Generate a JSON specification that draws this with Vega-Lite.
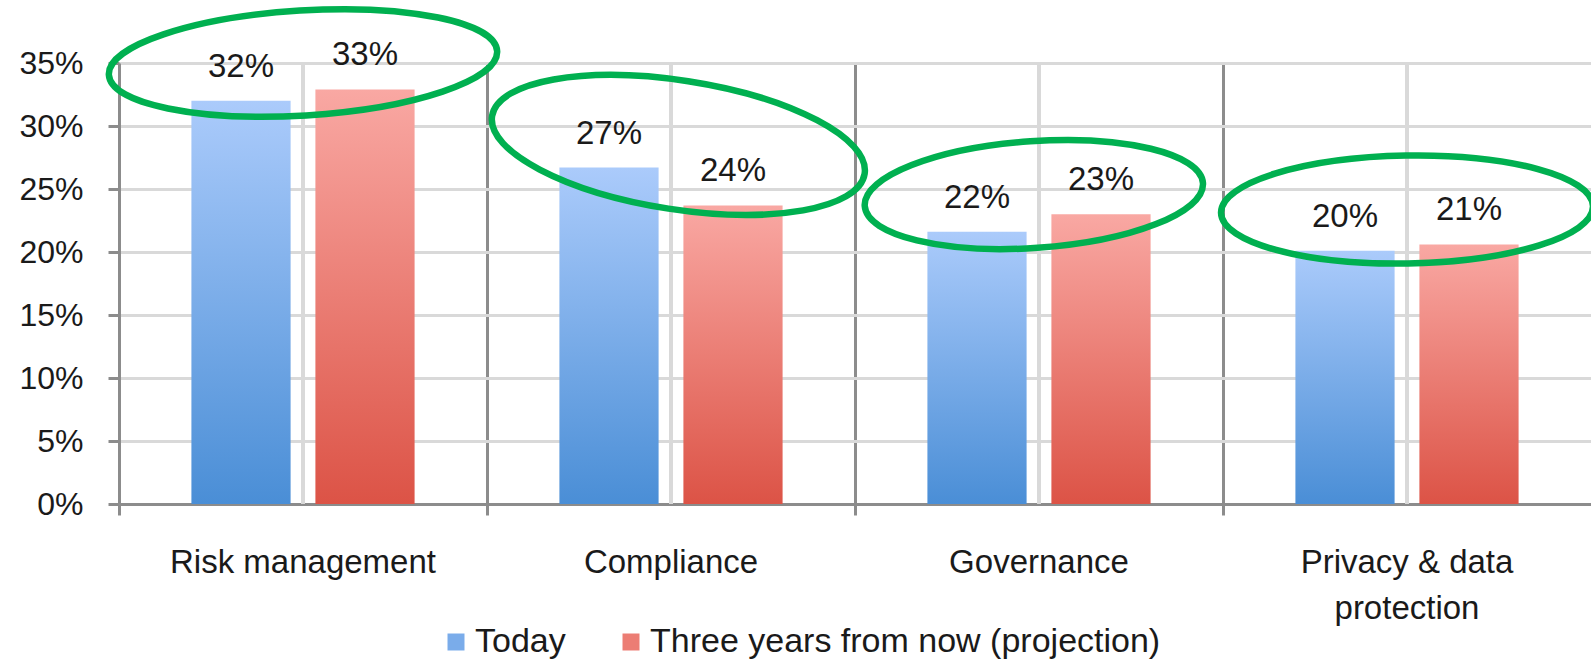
{
  "$schema": "https://vega.github.io/schema/vega-lite/v6.json",
  "width": 1472,
  "height": 441,
  "autosize": "none",
  "padding": {"left": 119, "top": 63, "right": 0, "bottom": 159},
  "background": "white",
  "config": {"view": {"stroke": null}, "font": "Liberation Sans"},
  "datasets": {
    "survey": [
      {"category": "Risk management", "series": "Today", "share": 0.32},
      {"category": "Risk management", "series": "Three years from now (projection)", "share": 0.329},
      {"category": "Compliance", "series": "Today", "share": 0.267},
      {"category": "Compliance", "series": "Three years from now (projection)", "share": 0.237},
      {"category": "Governance", "series": "Today", "share": 0.216},
      {"category": "Governance", "series": "Three years from now (projection)", "share": 0.23},
      {"category": "Privacy & data protection", "series": "Today", "share": 0.201},
      {"category": "Privacy & data protection", "series": "Three years from now (projection)", "share": 0.206}
    ],
    "ellipses": [
      {"category": "Risk management", "center": 0.35},
      {"category": "Compliance", "center": 0.285},
      {"category": "Governance", "center": 0.2456},
      {"category": "Privacy & data protection", "center": 0.2337}
    ]
  },
  "data": {"name": "survey"},
  "layer": [
    {
      "mark": {"type": "rule", "color": "#d9d9d9", "strokeWidth": 4},
      "encoding": {
        "x": {
          "field": "category", "type": "nominal", "sort": null,
          "scale": {"domain": ["Risk management", "Compliance", "Governance", "Privacy & data protection"], "paddingInner": 0, "paddingOuter": 0},
          "axis": {
            "title": null, "labelAngle": 0, "bandPosition": 0,
            "domainColor": "#8c8c8c", "domainWidth": 3,
            "tickColor": "#8c8c8c", "tickWidth": 3, "tickSize": 11,
            "grid": true, "gridColor": "#8c8c8c", "gridWidth": 3,
            "labelFontSize": 33, "labelColor": "#1a1a1a", "labelPadding": 31, "labelLineHeight": 46,
            "labelOverlap": false, "labelFlush": false, "labelLimit": 0,
            "labelExpr": "datum.value == 'Privacy & data protection' ? ['Privacy & data', 'protection'] : datum.label"
          }
        }
      }
    },
    {
      "mark": {"type": "square", "size": 0, "opacity": 1},
      "encoding": {
        "x": {"field": "category", "type": "nominal", "sort": null},
        "y": {"field": "share", "type": "quantitative"},
        "color": {
          "field": "series", "type": "nominal", "sort": ["Today", "Three years from now (projection)"],
          "scale": {
            "domain": ["Today", "Three years from now (projection)"],
            "range": ["#7aacea", "#ec7d74"]
          },
          "legend": {
            "orient": "none", "legendX": 320, "legendY": 562, "direction": "horizontal",
            "title": null, "labelFontSize": 34, "labelColor": "#1a1a1a",
            "symbolType": "square", "symbolSize": 289, "symbolStrokeWidth": 0, "symbolOpacity": 1,
            "labelOffset": 2, "columnPadding": 48, "padding": 0, "labelLimit": 0,
            "encode": {
              "symbols": {
                "update": {
                  "fill": {"signal": "datum.value === 'Today' ? {gradient: 'linear', x1: 0, y1: 0, x2: 0, y2: 1, stops: [{offset: 0, color: '#abcbfb'}, {offset: 1, color: '#4a8ed6'}]} : {gradient: 'linear', x1: 0, y1: 0, x2: 0, y2: 1, stops: [{offset: 0, color: '#f9a8a3'}, {offset: 1, color: '#dc5346'}]}"}
                }
              }
            }
          }
        }
      }
    },
    {
      "mark": {"type": "bar"},
      "encoding": {
        "x": {"field": "category", "type": "nominal", "sort": null},
        "xOffset": {"field": "series", "type": "nominal", "sort": ["Today", "Three years from now (projection)"], "scale": {"paddingInner": 0.2, "paddingOuter": 0.584}},
        "y": {
          "field": "share", "type": "quantitative",
          "scale": {"domain": [0, 0.35]},
          "axis": {
            "title": null, "format": ".0%", "values": [0, 0.05, 0.1, 0.15, 0.2, 0.25, 0.3, 0.35],
            "domainColor": "#8c8c8c", "domainWidth": 3,
            "tickColor": "#8c8c8c", "tickWidth": 3, "tickSize": 11,
            "grid": true, "gridColor": "#d9d9d9", "gridWidth": 3,
            "labelFontSize": 32, "labelColor": "#1a1a1a", "labelPadding": 25
          }
        },
        "fill": {
          "condition": {
            "test": "datum.series === 'Today'",
            "value": {"gradient": "linear", "x1": 0, "y1": 0, "x2": 0, "y2": 1, "stops": [{"offset": 0, "color": "#abcbfb"}, {"offset": 1, "color": "#4a8ed6"}]}
          },
          "value": {"gradient": "linear", "x1": 0, "y1": 0, "x2": 0, "y2": 1, "stops": [{"offset": 0, "color": "#f9a8a3"}, {"offset": 1, "color": "#dc5346"}]}
        }
      }
    },
    {
      "mark": {"type": "text", "fontSize": 33, "baseline": "alphabetic", "dy": -24, "color": "#1a1a1a"},
      "encoding": {
        "x": {"field": "category", "type": "nominal", "sort": null},
        "xOffset": {"field": "series", "type": "nominal", "sort": ["Today", "Three years from now (projection)"]},
        "y": {"field": "share", "type": "quantitative"},
        "text": {"field": "share", "type": "quantitative", "format": ".0%"}
      }
    },
    {
      "data": {"name": "ellipses"},
      "transform": [{"filter": "datum.category == 'Risk management'"}],
      "mark": {"type": "point", "shape": "M -1 0 C -1 -0.149 -0.5523 -0.27 0 -0.27 C 0.5523 -0.27 1 -0.149 1 0 C 1 0.149 0.5523 0.27 0 0.27 C -0.5523 0.27 -1 0.149 -1 0 Z", "size": 151321, "angle": -3.5, "filled": false, "stroke": "#00b050", "strokeWidth": 6.5, "opacity": 1},
      "encoding": {
        "x": {"field": "category", "type": "nominal", "sort": null},
        "y": {"field": "center", "type": "quantitative"}
      }
    },
    {
      "data": {"name": "ellipses"},
      "transform": [{"filter": "datum.category == 'Compliance'"}],
      "mark": {"type": "point", "shape": "M -1 0 C -1 -0.189 -0.5523 -0.342 0 -0.342 C 0.5523 -0.342 1 -0.189 1 0 C 1 0.189 0.5523 0.342 0 0.342 C -0.5523 0.342 -1 0.189 -1 0 Z", "size": 142129, "angle": 8.8, "filled": false, "stroke": "#00b050", "strokeWidth": 6.5, "opacity": 1},
      "encoding": {
        "x": {"field": "category", "type": "nominal", "sort": null, "bandPosition": 0.52},
        "y": {"field": "center", "type": "quantitative"}
      }
    },
    {
      "data": {"name": "ellipses"},
      "transform": [{"filter": "datum.category == 'Governance'"}],
      "mark": {"type": "point", "shape": "M -1 0 C -1 -0.174 -0.5523 -0.315 0 -0.315 C 0.5523 -0.315 1 -0.174 1 0 C 1 0.174 0.5523 0.315 0 0.315 C -0.5523 0.315 -1 0.174 -1 0 Z", "size": 114921, "angle": -3.9, "filled": false, "stroke": "#00b050", "strokeWidth": 6.5, "opacity": 1},
      "encoding": {
        "x": {"field": "category", "type": "nominal", "sort": null, "bandPosition": 0.486},
        "y": {"field": "center", "type": "quantitative"}
      }
    },
    {
      "data": {"name": "ellipses"},
      "transform": [{"filter": "datum.category == 'Privacy & data protection'"}],
      "mark": {"type": "point", "shape": "M -1 0 C -1 -0.16 -0.5523 -0.29 0 -0.29 C 0.5523 -0.29 1 -0.16 1 0 C 1 0.16 0.5523 0.29 0 0.29 C -0.5523 0.29 -1 0.16 -1 0 Z", "size": 138384, "angle": -1, "filled": false, "stroke": "#00b050", "strokeWidth": 6.5, "opacity": 1},
      "encoding": {
        "x": {"field": "category", "type": "nominal", "sort": null},
        "y": {"field": "center", "type": "quantitative"}
      }
    }
  ]
}
